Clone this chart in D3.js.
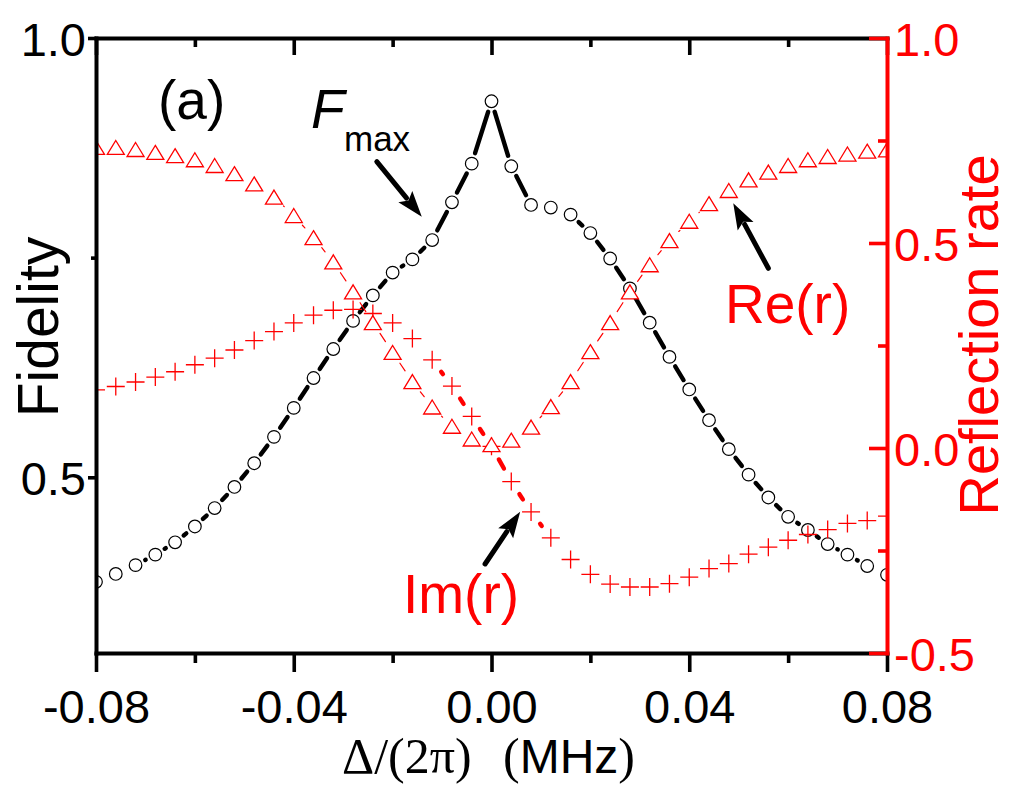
<!DOCTYPE html>
<html>
<head>
<meta charset="utf-8">
<script src="https://cdn.jsdelivr.net/npm/d3@7"></script>
<style>
  body { margin: 0; background: #fff; }
</style>
</head>
<body>
<div id="chart"></div>
<script>
// detuning Delta/(2 pi), MHz
const detuning = [-0.080, -0.076, -0.072, -0.068, -0.064, -0.060, -0.056, -0.052, -0.048, -0.044,
                  -0.040, -0.036, -0.032, -0.028, -0.024, -0.020, -0.016, -0.012, -0.008, -0.004,
                   0.000,  0.004,  0.008,  0.012,  0.016,  0.020,  0.024,  0.028,  0.032,  0.036,
                   0.040,  0.044,  0.048,  0.052,  0.056,  0.060,  0.064,  0.068,  0.072,  0.076, 0.080];

// F_max (left axis)
const fidelity = [0.381, 0.390, 0.400, 0.412, 0.426, 0.444, 0.465, 0.489, 0.516, 0.546,
                  0.579, 0.613, 0.646, 0.678, 0.707, 0.733, 0.748, 0.770, 0.813, 0.857,
                  0.928, 0.854, 0.810, 0.807, 0.799, 0.778, 0.749, 0.715, 0.676, 0.637,
                  0.600, 0.565, 0.532, 0.503, 0.477, 0.455, 0.440, 0.424, 0.412, 0.399, 0.389];

// Re(r) (right axis)
const reR = [0.733, 0.733, 0.728, 0.721, 0.713, 0.703, 0.689, 0.669, 0.644, 0.612,
             0.567, 0.513, 0.454, 0.381, 0.306, 0.233, 0.162, 0.100, 0.053, 0.022,
             0.008, 0.019, 0.051, 0.101, 0.162, 0.235, 0.306, 0.381, 0.447, 0.506,
             0.553, 0.596, 0.628, 0.654, 0.673, 0.689, 0.703, 0.711, 0.717, 0.724, 0.727];

// Im(r) (right axis)
const imR = [0.142, 0.150, 0.161, 0.173, 0.186, 0.203, 0.219, 0.239, 0.262, 0.284,
             0.305, 0.324, 0.336, 0.338, 0.328, 0.305, 0.267, 0.215, 0.151, 0.077,
             0.004, -0.082, -0.156, -0.219, -0.272, -0.308, -0.332, -0.339, -0.339, -0.331,
             -0.315, -0.294, -0.282, -0.259, -0.242, -0.225, -0.211, -0.199, -0.184, -0.177, -0.166];

const xTicks = [-0.08, -0.04, 0, 0.04, 0.08];
const xTickLabels = ["-0.08", "-0.04", "0.00", "0.04", "0.08"];
const xMinor = [-0.06, -0.02, 0.02, 0.06];
const leftTicks = [0.5, 1.0];
const leftTickLabels = ["0.5", "1.0"];
const leftMinor = [0.75];
const rightTicks = [-0.5, 0, 0.5, 1.0];
const rightTickLabels = ["-0.5", "0.0", "0.5", "1.0"];
const rightMinor = [-0.25, 0.25, 0.75];

const RED = "#ff0000";
const SANS = "'Liberation Sans', Arial, sans-serif";
const SERIF = "'Liberation Serif', 'Times New Roman', serif";

var margin = { top: 38, right: 124, bottom: 136, left: 96 },
    width = 1011 - margin.left - margin.right,
    height = 789 - margin.top - margin.bottom;

let x = d3.scaleLinear().domain([-0.08, 0.08]).range([0, width]);
let yL = d3.scaleLinear().domain([0.3, 1.0]).range([height, 0]);
let yR = d3.scaleLinear().domain([-0.5, 1.0]).range([height, 0]);

let svg = d3.select("#chart").append("svg")
    .attr("width", 1011)
    .attr("height", 789)
    .style("background", "#fff");

let graph = svg.append("g")
    .attr("transform", "translate(" + margin.left + "," + margin.top + ")");

svg.append("defs").append("clipPath").attr("id", "plotclip")
    .append("rect").attr("x", 0).attr("y", 0).attr("width", width).attr("height", height);

let plot = graph.append("g").attr("clip-path", "url(#plotclip)");

// Origin style: line segments stop short of each symbol
function gapSegments(vals, yScale, gap) {
    let segs = [];
    for (let i = 0; i < detuning.length - 1; i++) {
        let x0 = x(detuning[i]), y0 = yScale(vals[i]);
        let x1 = x(detuning[i + 1]), y1 = yScale(vals[i + 1]);
        let L = Math.hypot(x1 - x0, y1 - y0);
        if (L <= 2 * gap) continue;
        let ux = (x1 - x0) / L, uy = (y1 - y0) / L;
        segs.push({ x1: x0 + ux * gap, y1: y0 + uy * gap, x2: x1 - ux * gap, y2: y1 - uy * gap });
    }
    return segs;
}

function drawSegs(segs, color, w) {
    plot.append("g").selectAll("line")
        .data(segs).enter().append("line")
        .attr("x1", d => d.x1).attr("y1", d => d.y1)
        .attr("x2", d => d.x2).attr("y2", d => d.y2)
        .attr("stroke", color).attr("stroke-width", w)
        .attr("stroke-linecap", "round");
}

// fidelity: thick black line + open circles
drawSegs(gapSegments(fidelity, yL, 11), "#000", 4.4);
plot.append("g").selectAll("circle")
    .data(detuning).enter().append("circle")
    .attr("cx", d => x(d))
    .attr("cy", (d, i) => yL(fidelity[i]))
    .attr("r", 6.3)
    .attr("fill", "#fff").attr("stroke", "#000").attr("stroke-width", 1.2);

// Im(r): thick red line + crosses
drawSegs(gapSegments(imR, yR, 15), RED, 4.4);
plot.append("g").selectAll("path")
    .data(detuning).enter().append("path")
    .attr("transform", (d, i) => "translate(" + x(d) + "," + yR(imR[i]) + ")")
    .attr("d", "M-9,0H9M0,-9V9")
    .attr("fill", "none").attr("stroke", RED).attr("stroke-width", 1.3);

// Re(r): thin red line + open triangles
drawSegs(gapSegments(reR, yR, 13), RED, 1.2);
plot.append("g").selectAll("path")
    .data(detuning).enter().append("path")
    .attr("transform", (d, i) => "translate(" + x(d) + "," + yR(reR[i]) + ")")
    .attr("d", "M0,-7L8.5,7L-8.5,7Z")
    .attr("fill", "#fff").attr("stroke", RED).attr("stroke-width", 1.3);

// arrows, given in data coordinates
function arrow(x0, y0, x1, y1, yScale) {
    let ax = x(x0), ay = yScale(y0), bx = x(x1), by = yScale(y1);
    let L = Math.hypot(bx - ax, by - ay);
    let ux = (bx - ax) / L, uy = (by - ay) / L;
    let hl = 26, hw = 9;
    let cx = bx - ux * hl, cy = by - uy * hl;
    graph.append("line")
        .attr("x1", ax).attr("y1", ay).attr("x2", cx + ux * 2).attr("y2", cy + uy * 2)
        .attr("stroke", "#000").attr("stroke-width", 5).attr("stroke-linecap", "round");
    graph.append("path")
        .attr("d", "M" + bx + "," + by +
            "L" + (cx - uy * hw) + "," + (cy + ux * hw) +
            "L" + (cx + ux * 5) + "," + (cy + uy * 5) +
            "L" + (cx + uy * hw) + "," + (cy - ux * hw) + "Z")
        .attr("fill", "#000");
}
arrow(-0.0232, 0.8592, -0.0141, 0.7966, yL);
arrow(0.0560, 0.4383, 0.0489, 0.5968, yR);
arrow(-0.0013, -0.2829, 0.0058, -0.1554, yR);

// axes
function styleAxis(g, color, domainW) {
    g.select(".domain").attr("stroke", color).attr("stroke-width", domainW).attr("stroke-linecap", "square");
    g.selectAll(".tick line").attr("stroke", color).attr("stroke-width", 3.6);
    g.selectAll(".tick text")
        .attr("fill", color)
        .style("font-family", SANS)
        .style("font-size", "47px");
}

let gxMinor = graph.append("g")
    .attr("transform", "translate(0," + height + ")")
    .call(d3.axisBottom(x).tickValues(xMinor).tickSizeInner(10).tickSizeOuter(0).tickFormat(""));
gxMinor.select(".domain").remove();
styleAxis(gxMinor, "#000", 4);

let gx = graph.append("g")
    .attr("class", "axis axis--x")
    .attr("transform", "translate(0," + height + ")")
    .call(d3.axisBottom(x).tickValues(xTicks).tickSizeInner(19).tickSizeOuter(0)
        .tickFormat((d, i) => xTickLabels[i]));
styleAxis(gx, "#000", 4);
gx.selectAll(".tick text").attr("y", 70).attr("dy", null);

let gtMinor = graph.append("g")
    .call(d3.axisTop(x).tickValues(xMinor).tickSizeInner(-9).tickSizeOuter(0).tickFormat(""));
gtMinor.select(".domain").remove();
styleAxis(gtMinor, "#000", 4);

let gt = graph.append("g")
    .call(d3.axisTop(x).tickValues(xTicks).tickSizeInner(-17).tickSizeOuter(0).tickFormat(""));
styleAxis(gt, "#000", 4);

let glMinor = graph.append("g")
    .call(d3.axisLeft(yL).tickValues(leftMinor).tickSizeInner(5).tickSizeOuter(0).tickFormat(""));
glMinor.select(".domain").remove();
styleAxis(glMinor, "#000", 4);

let gl = graph.append("g")
    .attr("class", "axis axis--y")
    .call(d3.axisLeft(yL).tickValues(leftTicks).tickSizeInner(8).tickSizeOuter(0)
        .tickFormat((d, i) => leftTickLabels[i]));
styleAxis(gl, "#000", 4);
gl.selectAll(".tick text").attr("x", -10).attr("dy", null).attr("y", 17);

let grMinor = graph.append("g")
    .attr("transform", "translate(" + width + ",0)")
    .call(d3.axisRight(yR).tickValues(rightMinor).tickSizeInner(-9).tickSizeOuter(0).tickFormat(""));
grMinor.select(".domain").remove();
styleAxis(grMinor, RED, 4);

let gr = graph.append("g")
    .attr("class", "axis axis--y")
    .attr("transform", "translate(" + width + ",0)")
    .call(d3.axisRight(yR).tickValues(rightTicks).tickSizeInner(-18).tickSizeOuter(0)
        .tickFormat((d, i) => rightTickLabels[i]));
styleAxis(gr, RED, 4);
gr.selectAll(".tick text").attr("x", 7).attr("dy", null).attr("y", 17);

// axis titles
svg.append("text")
    .attr("transform", "translate(58,327) rotate(-90)")
    .attr("text-anchor", "middle")
    .style("font-family", SANS).style("font-size", "57px")
    .text("Fidelity");

svg.append("text")
    .attr("transform", "translate(998,335) rotate(-90)")
    .attr("text-anchor", "middle")
    .attr("fill", RED)
    .style("font-family", SANS).style("font-size", "56px")
    .text("Reflection rate");

let xt = svg.append("text")
    .attr("y", 773)
    .style("font-size", "50px");
xt.append("tspan").attr("x", 342).style("font-family", SERIF).text("\u0394/(2\u03c0)");
xt.append("tspan").attr("x", 503).style("font-family", SERIF).text("(");
xt.append("tspan").style("font-family", SANS).style("font-size", "48px").text("MHz");
xt.append("tspan").style("font-family", SERIF).text(")");

// labels inside the plot
svg.append("text").attr("x", 158).attr("y", 119)
    .style("font-family", SANS).style("font-size", "55px").text("(a)");

svg.append("text").attr("x", 311).attr("y", 128)
    .style("font-family", SANS).style("font-size", "55px").style("font-style", "italic").text("F");
svg.append("text").attr("x", 344).attr("y", 151)
    .style("font-family", SANS).style("font-size", "35px").text("max");

svg.append("text").attr("x", 725).attr("y", 323).attr("fill", RED)
    .style("font-family", SANS).style("font-size", "55px").text("Re(r)");

svg.append("text").attr("x", 403).attr("y", 613).attr("fill", RED)
    .style("font-family", SANS).style("font-size", "55px").text("Im(r)");
</script>
</body>
</html>
